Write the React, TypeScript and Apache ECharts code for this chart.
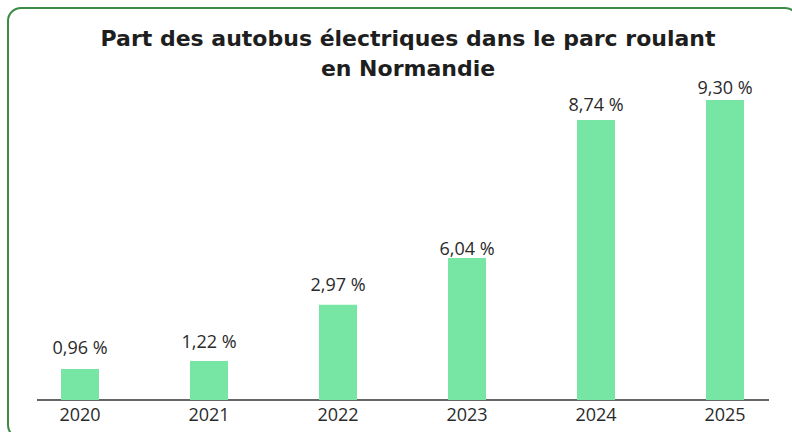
import React, { useEffect, useRef } from "react";
import * as echarts from "echarts";

const categories = ["2020", "2021", "2022", "2023", "2024", "2025"];
// bar heights as drawn in the picture (%)
const barHeights = [0.96, 1.21, 2.95, 4.4, 8.68, 9.3];
// values printed above the bars (%)
const labelValues = [0.96, 1.22, 2.97, 6.04, 8.74, 9.3];
const titleText = "Part des autobus électriques dans le parc roulant\nen Normandie";

const fmt = (v: number) => v.toFixed(2).replace(".", ",") + " %";

export default function App() {
  const ref = useRef<HTMLDivElement>(null);
  useEffect(() => {
    if (!ref.current) return;
    const chart = echarts.init(ref.current, undefined, { renderer: "svg" });
    const labelGaps = [13, 11, 12, 1, 7, 4];
    chart.setOption({
      animation: false,
      backgroundColor: "#ffffff",
      title: {
        text: titleText,
        left: 403,
        textAlign: "center",
        top: 18,
        textStyle: {
          fontFamily: "DejaVu Sans",
          fontWeight: "bold",
          fontSize: 22,
          lineHeight: 30,
          color: "#1e1e1e",
        },
      },
      graphic: [
        {
          type: "rect",
          shape: { x: 8, y: 8, width: 790, height: 430, r: 13 },
          style: { fill: "none", stroke: "#3b8a46", lineWidth: 2 },
          silent: true,
        },
        {
          type: "line",
          shape: { x1: 37, y1: 400, x2: 769, y2: 400 },
          style: { stroke: "#666666", lineWidth: 2 },
          silent: true,
        },
      ],
      grid: { left: 15.5, right: 2.5, top: 77.4, bottom: 32 },
      xAxis: {
        type: "category",
        data: categories,
        axisLine: { show: false },
        axisTick: { show: false },
        axisLabel: {
          fontFamily: "Open Sans",
          fontSize: 18,
          color: "#2a2a2a",
          margin: 5,
        },
      },
      yAxis: {
        type: "value",
        min: 0,
        max: 10,
        show: false,
        splitLine: { show: false },
      },
      series: [
        {
          type: "bar",
          data: barHeights.map((v, i) => ({
            value: v,
            label: { distance: labelGaps[i] },
          })),
          barWidth: 38,
          itemStyle: { color: "#77e6a5" },
          label: {
            show: true,
            position: "top",
            formatter: (p: any) => fmt(labelValues[p.dataIndex]),
            fontFamily: "Open Sans",
            fontSize: 18,
            color: "#2a2a2a",
          },
        },
      ],
    });
    return () => chart.dispose();
  }, []);
  return <div ref={ref} style={{ width: 792, height: 432, position: "fixed", left: 0, top: 0 }} />;
}
